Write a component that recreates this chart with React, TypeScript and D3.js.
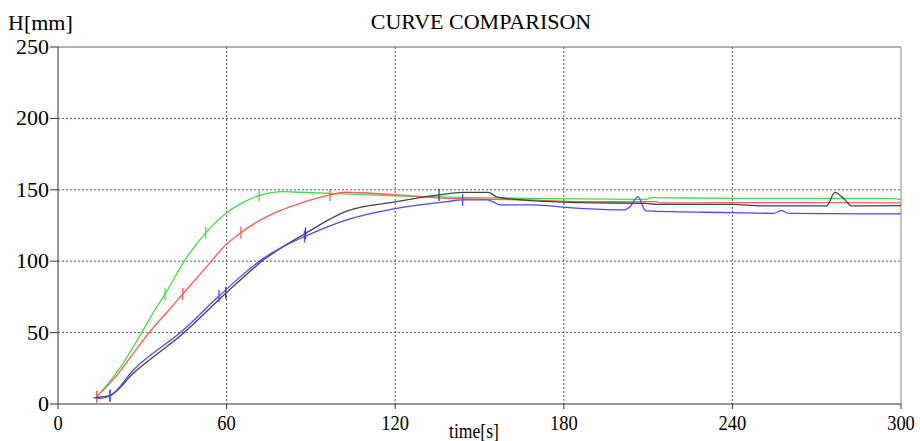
import * as React from "react";
import * as d3 from "d3";

// values: [time s, H mm]
const greenCurve: [number, number][] = [
  [13.8, 5.1], [17.9, 14.5], [22.1, 25.5], [29.8, 50.0], [34.5, 66.0], [38.1, 77.0],
  [44.6, 99.0], [52.6, 120.0], [60.0, 134.0], [65.9, 141.2], [71.6, 146.0],
  [80.2, 148.7], [86.1, 148.3], [120.5, 145.7], [168, 144.0], [209.5, 143.3],
  [210.7, 144.5], [240.2, 144.0], [296, 144.0], [300, 143.2]
];
const redCurve: [number, number][] = [
  [13.8, 5.1], [17.0, 11.5], [20.9, 20.0], [26.8, 35.5], [32.7, 50.6], [38.7, 64.1],
  [44.4, 77.0], [52.9, 96.2], [60.0, 112.0], [65.1, 120.0], [74.3, 131.2], [79.0, 135.4],
  [86.1, 140.5], [96.8, 146.4], [102.1, 148.3], [120.5, 146.4], [138.3, 144.0],
  [168, 142.9], [185.8, 141.7], [213, 141.7], [214.2, 140.8], [240.2, 141.0], [300, 140.8]
];
const blackCurve: [number, number][] = [
  [13.2, 4.4], [18.5, 6.0], [26.8, 21.5], [44.6, 49.5], [59.7, 77.5], [73.1, 100.8],
  [88.1, 119.5], [102.7, 135.0], [120.5, 141.7], [135.6, 146.4], [143.7, 148.2],
  [153.1, 148.2], [156.1, 145.1], [168, 142.4], [185.8, 141.0], [209.5, 140.5],
  [213, 139.8], [240.2, 139.8], [250.4, 138.7], [273.5, 138.7], [276.5, 148.2],
  [279.5, 144.0], [282.5, 138.7], [300, 138.9]
];
const blueCurve: [number, number][] = [
  [12.6, 4.4], [14.9, 3.9], [18.5, 5.6], [26.8, 23.8], [44.6, 51.8], [57.3, 75.6],
  [73.1, 102.0], [79.0, 109.0], [87.7, 117.2], [102.7, 128.9], [120.5, 137.0],
  [138.3, 141.7], [144.0, 142.9], [152.6, 142.9], [154.9, 141.5], [157.3, 139.4],
  [168, 139.4], [185.8, 137.0], [201.2, 135.9], [203.6, 138.2], [206.4, 145.2],
  [208.8, 135.9], [209.4, 135.2], [240.3, 134.0], [254.6, 133.5], [257.5, 135.4],
  [260, 133.5], [300, 133.1]
];

// tick marks drawn across each curve
const greenMarks: [number, number][] = [[13.8, 5.1], [38.1, 77.0], [52.6, 120.0], [71.6, 146.0]];
const redMarks: [number, number][] = [[13.8, 5.1], [44.4, 77.0], [65.1, 120.0], [96.8, 146.4]];
const blackMarks: [number, number][] = [[18.5, 6.0], [59.7, 77.5], [88.1, 119.5], [135.6, 146.4]];
const blueMarks: [number, number][] = [[18.5, 5.6], [57.3, 75.6], [87.7, 117.2], [144.0, 142.9]];

const xTicks = [0, 60, 120, 180, 240, 300];
const yTicks = [0, 50, 100, 150, 200, 250];

const series = [
  { name: "green", color: "#44dd44", curve: greenCurve, marks: greenMarks },
  { name: "red", color: "#ff5a5a", curve: redCurve, marks: redMarks },
  { name: "black", color: "#444444", curve: blackCurve, marks: blackMarks },
  { name: "blue", color: "#4a4aff", curve: blueCurve, marks: blueMarks }
];

const font = "Liberation Serif, DejaVu Serif, Times New Roman, serif";

export default function App() {
  const ref = React.useRef<SVGSVGElement>(null);

  React.useEffect(() => {
    const svg = d3.select(ref.current);
    svg.selectAll("*").remove();

    const left = 58, right = 901, top = 47, bottom = 404;
    const x = d3.scaleLinear().domain([0, 300]).range([left, right]);
    const y = d3.scaleLinear().domain([0, 250]).range([bottom, top]);

    // grid
    const grid = svg.append("g");
    grid.selectAll("line.vgrid")
      .data(xTicks.filter(t => t > 0 && t < 300))
      .enter().append("line")
      .attr("x1", d => x(d)).attr("x2", d => x(d))
      .attr("y1", top).attr("y2", bottom)
      .attr("stroke", "#555").attr("stroke-dasharray", "2,2");
    grid.selectAll("line.hgrid")
      .data(yTicks.filter(t => t > 0 && t < 250))
      .enter().append("line")
      .attr("x1", left).attr("x2", right)
      .attr("y1", d => y(d)).attr("y2", d => y(d))
      .attr("stroke", "#555").attr("stroke-dasharray", "2,2");

    // frame
    svg.append("line").attr("x1", left).attr("x2", right).attr("y1", top).attr("y2", top)
      .attr("stroke", "#666");
    svg.append("line").attr("x1", right).attr("x2", right).attr("y1", top).attr("y2", bottom)
      .attr("stroke", "#888");

    // curves
    const line = d3.line<[number, number]>()
      .x(d => x(d[0]))
      .y(d => y(d[1]))
      .curve(d3.curveMonotoneX);

    series.forEach(s => {
      svg.append("path")
        .attr("d", line(s.curve))
        .attr("fill", "none")
        .attr("stroke", s.color)
        .attr("stroke-width", 1.3);
      svg.selectAll("line.mark-" + s.name)
        .data(s.marks)
        .enter().append("line")
        .attr("x1", d => x(d[0])).attr("x2", d => x(d[0]))
        .attr("y1", d => y(d[1]) - 6).attr("y2", d => y(d[1]) + 6)
        .attr("stroke", s.color)
        .attr("stroke-width", 1.3);
    });

    // axes
    svg.append("line").attr("x1", left).attr("x2", left).attr("y1", top).attr("y2", bottom)
      .attr("stroke", "#333");
    svg.append("line").attr("x1", left).attr("x2", right).attr("y1", bottom).attr("y2", bottom)
      .attr("stroke", "#333");

    const txt = svg.append("g").attr("font-family", font).attr("fill", "#000");

    svg.selectAll("line.ytick").data(yTicks).enter().append("line")
      .attr("x1", left - 8).attr("x2", left)
      .attr("y1", d => y(d)).attr("y2", d => y(d))
      .attr("stroke", "#333");
    txt.selectAll("text.ylab").data(yTicks).enter().append("text")
      .attr("x", left - 9).attr("y", d => y(d) + 7)
      .attr("text-anchor", "end")
      .attr("font-size", 22)
      .text(d => d);

    svg.selectAll("line.xtick").data(xTicks).enter().append("line")
      .attr("x1", d => x(d)).attr("x2", d => x(d))
      .attr("y1", bottom).attr("y2", bottom + 5)
      .attr("stroke", "#333");
    txt.selectAll("text.xlab").data(xTicks).enter().append("text")
      .attr("transform", d => "translate(" + x(d) + "," + 430 + ") scale(0.88,1)")
      .attr("text-anchor", "middle")
      .attr("font-size", 21)
      .text(d => d);

    txt.append("text")
      .attr("transform", "translate(474,438) scale(0.88,1)")
      .attr("text-anchor", "middle")
      .attr("font-size", 20)
      .text("time[s]");

    txt.append("text")
      .attr("x", 8).attr("y", 30)
      .attr("font-size", 22)
      .text("H[mm]");

    txt.append("text")
      .attr("x", 481).attr("y", 29)
      .attr("text-anchor", "middle")
      .attr("font-size", 22)
      .text("CURVE COMPARISON");
  }, []);

  return (
    <>
      <style>{"body{margin:0;background:#fff}"}</style>
      <svg ref={ref} width={920} height={441} style={{ display: "block" }} />
    </>
  );
}
